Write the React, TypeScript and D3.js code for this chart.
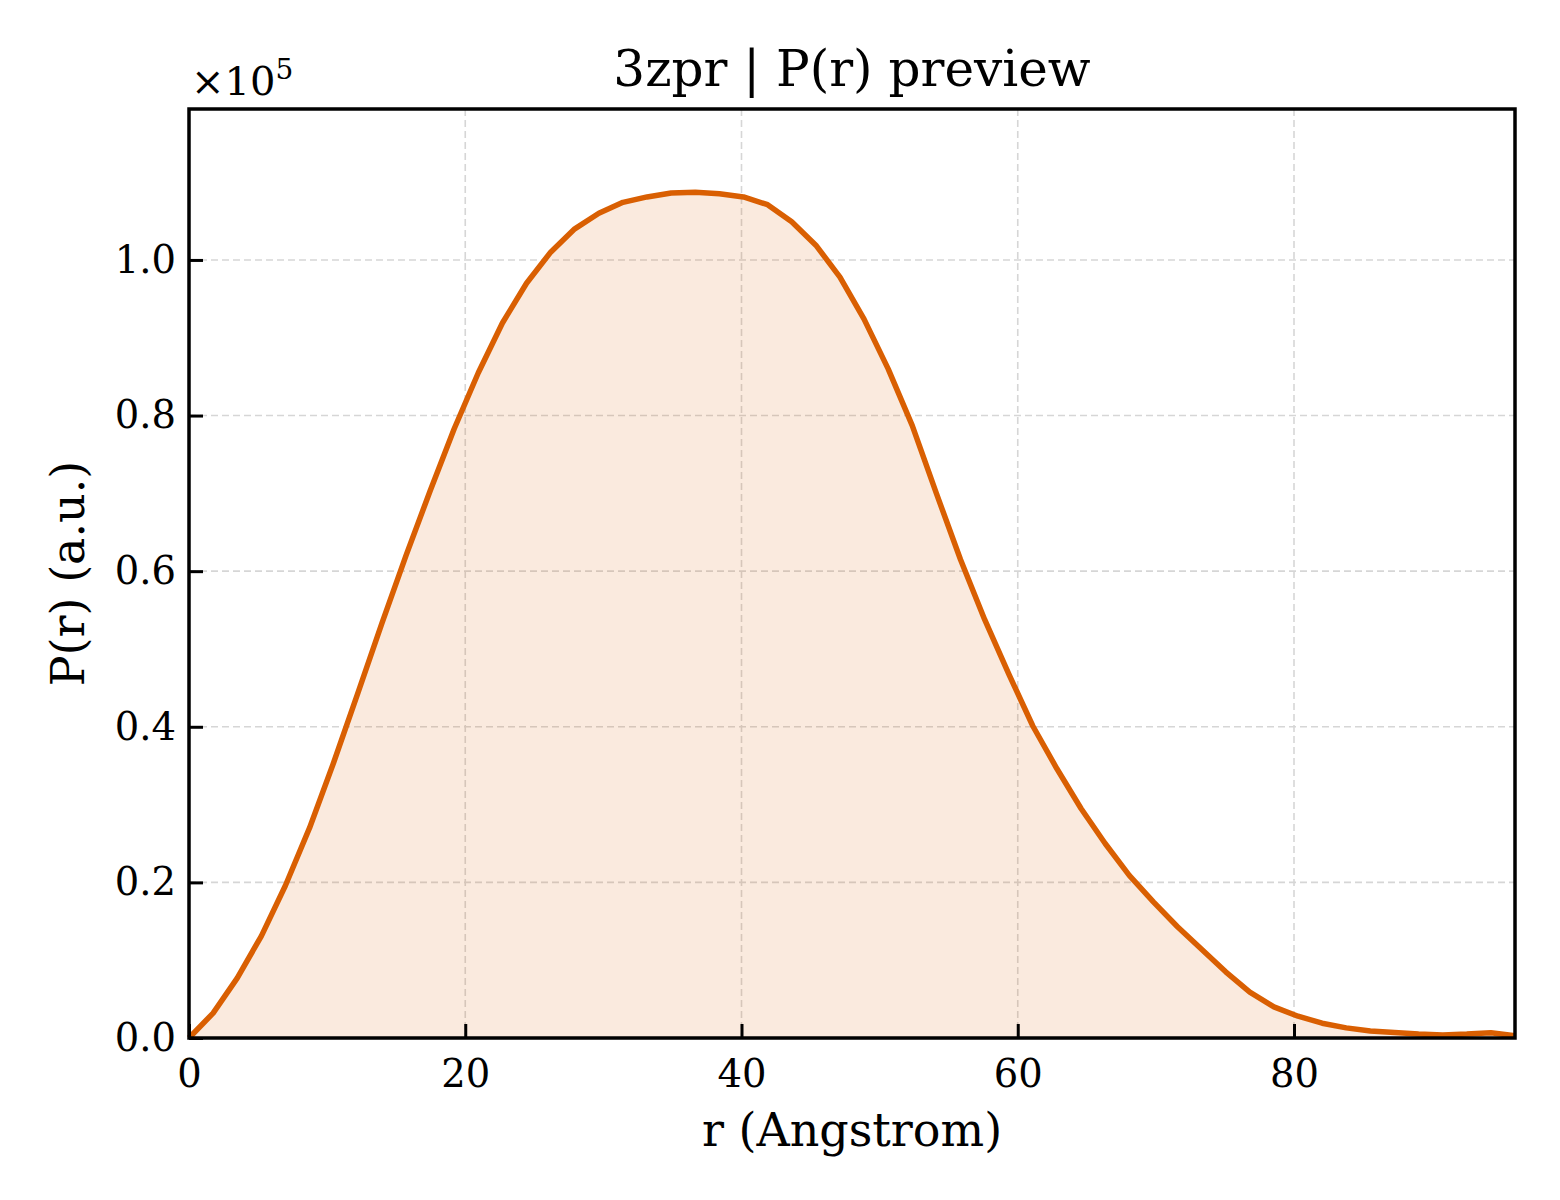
import React, { useRef, useEffect } from 'react';
import * as d3 from 'd3';

// P(r) samples, r in Angstrom (evenly spaced 0..96), P in units of 1e5
const rMax = 96;
const pValues = [
  0.0, 0.032, 0.077, 0.131, 0.196, 0.27, 0.354, 0.443, 0.533, 0.62,
  0.703, 0.783, 0.855, 0.919, 0.97, 1.01, 1.04, 1.06, 1.074, 1.081,
  1.086, 1.087, 1.085, 1.081, 1.071, 1.049, 1.019, 0.978, 0.924, 0.86,
  0.787, 0.7, 0.615, 0.538, 0.468, 0.401, 0.346, 0.295, 0.25, 0.209,
  0.175, 0.143, 0.114, 0.085, 0.059, 0.04, 0.028, 0.019, 0.013, 0.009,
  0.007, 0.005, 0.004, 0.005, 0.0068, 0.003,
];
const rValues = pValues.map((_, i) => (i * rMax) / (pValues.length - 1));

const xTicks = [0, 20, 40, 60, 80];
const yTicks = [0.0, 0.2, 0.4, 0.6, 0.8, 1.0];
const yMax = 1.194;

const title = '3zpr | P(r) preview';
const xLabel = 'r (Angstrom)';
const yLabel = 'P(r) (a.u.)';

const W = 1560;
const H = 1200;
const margin = { top: 109, right: 45, bottom: 162, left: 189 };
const lineColor = '#d95f02';
const font = '"DejaVu Serif", "Liberation Serif", serif';

const App: React.FC = () => {
  const svgRef = useRef<SVGSVGElement>(null);

  useEffect(() => {
    if (!svgRef.current) return;
    const svg = d3.select(svgRef.current);
    svg.selectAll('*').remove();

    const innerW = W - margin.left - margin.right;
    const innerH = H - margin.top - margin.bottom;

    const x = d3.scaleLinear().domain([0, rMax]).range([0, innerW]);
    const y = d3.scaleLinear().domain([0, yMax]).range([innerH, 0]);

    const g = svg.append('g').attr('transform', `translate(${margin.left},${margin.top})`);

    const data = rValues.map((r, i) => ({ r, p: pValues[i] }));

    // grid
    g.append('g')
      .selectAll('line')
      .data(xTicks.filter(t => t > 0))
      .enter().append('line')
      .attr('x1', d => x(d)).attr('x2', d => x(d))
      .attr('y1', 0).attr('y2', innerH)
      .attr('stroke', '#d6d6d6').attr('stroke-width', 1.6)
      .attr('stroke-dasharray', '7,4');
    g.append('g')
      .selectAll('line')
      .data(yTicks.filter(t => t > 0))
      .enter().append('line')
      .attr('x1', 0).attr('x2', innerW)
      .attr('y1', d => y(d)).attr('y2', d => y(d))
      .attr('stroke', '#d6d6d6').attr('stroke-width', 1.6)
      .attr('stroke-dasharray', '7,4');

    // fill + curve
    const area = d3.area<{ r: number; p: number }>()
      .x(d => x(d.r)).y0(y(0)).y1(d => y(d.p));
    g.append('path').datum(data)
      .attr('d', area)
      .attr('fill', lineColor).attr('fill-opacity', 0.13);

    const line = d3.line<{ r: number; p: number }>()
      .x(d => x(d.r)).y(d => y(d.p));
    g.append('path').datum(data)
      .attr('d', line)
      .attr('fill', 'none')
      .attr('stroke', lineColor)
      .attr('stroke-width', 5.5)
      .attr('stroke-linejoin', 'round');

    // axes (ticks pointing inward)
    const tickLen = 14;
    const xAxis = g.append('g').attr('transform', `translate(0,${innerH})`)
      .call(d3.axisBottom(x).tickValues(xTicks).tickSizeInner(-tickLen).tickSizeOuter(0).tickPadding(22).tickFormat(d3.format('d')));
    const yAxis = g.append('g')
      .call(d3.axisLeft(y).tickValues(yTicks).tickSizeInner(-tickLen).tickSizeOuter(0).tickPadding(13).tickFormat(d3.format('.1f')));
    [xAxis, yAxis].forEach(ax => {
      ax.select('.domain').remove();
      ax.selectAll('.tick line').attr('stroke', '#000').attr('stroke-width', 3);
      ax.selectAll('.tick text')
        .attr('fill', '#000')
        .style('font-family', font)
        .style('font-size', '38.5px');
    });

    // frame
    g.append('rect')
      .attr('x', 0).attr('y', 0)
      .attr('width', innerW).attr('height', innerH)
      .attr('fill', 'none').attr('stroke', '#000').attr('stroke-width', 3.5);

    // offset text
    const off = svg.append('text')
      .attr('x', margin.left + 2).attr('y', 95)
      .style('font-family', font).style('font-size', '40px');
    off.append('tspan').text('×10');
    off.append('tspan').attr('dy', -16).style('font-size', '28px').text('5');

    // title and labels
    svg.append('text')
      .attr('x', margin.left + innerW / 2).attr('y', 86)
      .attr('text-anchor', 'middle')
      .style('font-family', font).style('font-size', '50px')
      .text(title);
    svg.append('text')
      .attr('x', margin.left + innerW / 2).attr('y', 1146)
      .attr('text-anchor', 'middle')
      .style('font-family', font).style('font-size', '46px')
      .text(xLabel);
    svg.append('text')
      .attr('transform', `translate(84,${margin.top + innerH / 2}) rotate(-90)`)
      .attr('text-anchor', 'middle')
      .style('font-family', font).style('font-size', '46px')
      .text(yLabel);
  }, []);

  return (
    <svg
      ref={svgRef}
      width={W}
      height={H}
      style={{ position: 'absolute', left: 0, top: 0, background: '#fff' }}
    />
  );
};

export default App;
